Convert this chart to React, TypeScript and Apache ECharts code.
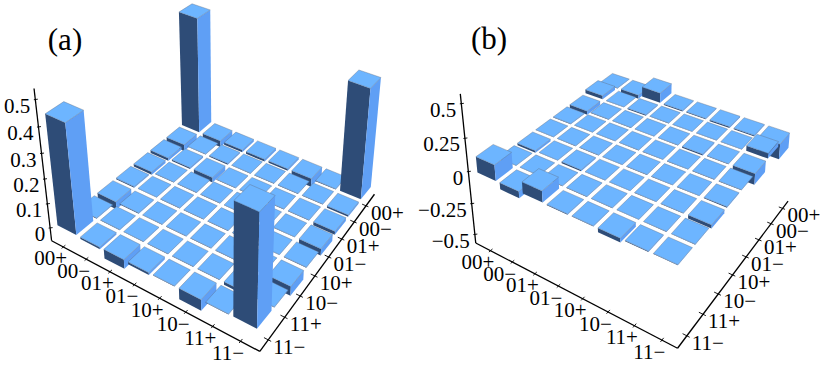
import React, { useEffect, useRef } from "react";
import * as echarts from "echarts";

const basisLabels = ["00+", "00−", "01+", "01−", "10+", "10−", "11+", "11−"];
const zTicksA = [0, 0.1, 0.2, 0.3, 0.4, 0.5];
const zTickLabelsA = ["0", "0.1", "0.2", "0.3", "0.4", "0.5"];
const zTicksB = [-0.5, -0.25, 0, 0.25, 0.5];
const zTickLabelsB = ["−0.5", "−0.25", "0", "0.25", "0.5"];

const matrixA = [
  [0.497, -0.028, -0.012, -0.012, -0.005, -0.032, -0.003, 0.44],
  [-0.028, -0.002, -0.006, -0.002, -0.002, -0.003, -0.002, -0.008],
  [-0.01, -0.005, -0.022, -0.002, -0.002, -0.002, -0.002, -0.038],
  [-0.01, -0.002, -0.002, -0.002, -0.002, -0.002, -0.002, -0.01],
  [-0.008, -0.002, -0.002, -0.002, -0.002, -0.002, -0.002, -0.002],
  [-0.036, -0.002, -0.002, -0.002, -0.002, -0.002, -0.002, -0.045],
  [-0.003, -0.002, -0.002, -0.002, -0.002, -0.002, -0.012, -0.002],
  [0.459, -0.008, -0.014, -0.028, -0.002, -0.038, -0.002, 0.432],
];

const matrixB = [
  [-0.003, 0.03, -0.03, -0.005, -0.003, -0.016, -0.003, 0.12],
  [-0.03, -0.003, -0.003, -0.003, -0.003, -0.003, -0.003, -0.05],
  [0.08, -0.008, -0.003, -0.003, -0.003, -0.01, -0.003, 0.085],
  [-0.008, -0.003, -0.003, -0.003, -0.003, -0.003, -0.003, -0.005],
  [-0.005, -0.003, -0.003, -0.003, -0.003, -0.003, -0.003, -0.004],
  [-0.01, -0.003, -0.01, -0.003, -0.003, -0.003, -0.003, -0.03],
  [-0.008, -0.003, -0.003, -0.003, -0.003, -0.003, -0.003, -0.006],
  [-0.12, 0.04, -0.085, -0.003, -0.006, -0.025, -0.003, -0.003],
];

type Cam = { a: number; b: number; c: number; d: number; e: number; f: number; g: number; h: number; p: number; q: number; r: number };
const camA: Cam = { a: 142.5, b: -149.3, c: 193.7, d: 54.2, e: 72.9, f: 113.5, g: -0.1009, h: -0.1744, p: -28.9, q: -224, r: -0.128 };
const camB: Cam = { a: 83.7, b: -226.4, c: 612, d: 44.3, e: 68.8, f: 72, g: -0.1226, h: -0.1861, p: -41, q: -117.5, r: -0.064 };

const project = (cam: Cam, u: number, v: number, z: number): [number, number] => {
  const s = u / 8;
  const t = v / 8;
  const w = cam.g * s + cam.h * t + 1 + cam.r * z;
  return [(cam.a * s + cam.b * t + cam.c + cam.p * z) / w, (cam.d * s + cam.e * t + cam.f + cam.q * z) / w];
};

const GAP = 0.085;
const TOP = "#6DB5FF";
const LIGHT = "#5F9FF5";
const DARK = "#2E4C77";
const EDGE = "rgba(95,105,120,0.6)";

const barSeries = (cam: Cam, matrix: number[][]) => ({
  type: "custom",
  coordinateSystem: "none",
  silent: true,
  clip: false,
  data: matrix.flatMap((row, i) => row.map((val, j) => [i, j, val])),
  renderItem: (_: unknown, api: any) => {
    const i = api.value(0);
    const j = api.value(1);
    const val = api.value(2);
    const u0 = i + GAP;
    const u1 = i + 1 - GAP;
    const v0 = j + GAP;
    const v1 = j + 1 - GAP;
    const zt = Math.max(val, 0);
    const zb = Math.min(val, 0);
    const P = (u: number, v: number, z: number) => project(cam, u, v, z);
    const face = (points: [number, number][], fill: string, stroke?: string) => ({
      type: "polygon",
      shape: { points },
      style: stroke ? { fill, stroke, lineWidth: 0.6 } : { fill },
    });
    return {
      type: "group",
      children: [
        face([P(u0, v1, zt), P(u1, v1, zt), P(u1, v1, zb), P(u0, v1, zb)], DARK),
        face([P(u1, v1, zt), P(u1, v0, zt), P(u1, v0, zb), P(u1, v1, zb)], LIGHT),
        face([P(u0, v0, zt), P(u1, v0, zt), P(u1, v1, zt), P(u0, v1, zt)], TOP, EDGE),
      ],
    };
  },
});

type Box = { uL: number; uR: number; uRBack: number; vF: number; vB: number; vScale: number; zMin: number; zMax: number };
const boxA: Box = { uL: -0.02, uR: 8.17, uRBack: 7.95, vF: 8.15, vB: -0.25, vScale: 1.02, zMin: -0.054, zMax: 0.54 };
const boxB: Box = { uL: -0.2, uR: 8.05, uRBack: 8.05, vF: 8.05, vB: 0, vScale: 1, zMin: -0.57, zMax: 0.57 };

const FONT = '21px "Liberation Serif"';

const axes = (cam: Cam, box: Box, zTicks: number[], zLabels: string[]) => {
  const out: any[] = [];
  const line = (p1: [number, number], p2: [number, number], lw: number) =>
    out.push({
      type: "line",
      shape: { x1: p1[0], y1: p1[1], x2: p2[0], y2: p2[1] },
      style: { stroke: "#000", lineWidth: lw },
    });
  const text = (s: string, x: number, y: number, align: string) =>
    out.push({
      type: "text",
      x,
      y,
      style: { text: s, font: FONT, fill: "#000", textAlign: align, textVerticalAlign: "middle" },
    });
  const Z = box.zMin;
  const uAt = (v: number) => box.uRBack + ((box.uR - box.uRBack) * v) / box.vF;
  const A = project(cam, box.uL, box.vF, Z);
  const B = project(cam, box.uR, box.vF, Z);
  const C = project(cam, box.uRBack, box.vB, Z);
  line(A, B, 1.3);
  line(B, C, 1.3);
  line(project(cam, box.uL, box.vF, box.zMin), project(cam, box.uL, box.vF, box.zMax), 1.3);
  basisLabels.forEach((lab, i) => {
    const t = project(cam, i + 0.5, box.vF, Z);
    line(project(cam, i + 0.5, box.vF - 0.1, Z), project(cam, i + 0.5, box.vF + 0.08, Z), 0.9);
    text(lab, t[0] - 12.5, t[1] + 11.5, "center");
    const v = (i + 0.5) * box.vScale;
    const t2 = project(cam, uAt(v), v, Z);
    line(project(cam, uAt(v) - 0.15, v, Z), project(cam, uAt(v) + 0.1, v, Z), 0.9);
    text(lab, t2[0] + 5, t2[1] + 7, "left");
  });
  zTicks.forEach((zv, k) => {
    const t = project(cam, box.uL, box.vF, zv);
    line([t[0] - 1.5, t[1]], [t[0] + 2.5, t[1] - 0.5], 0.9);
    text(zLabels[k], t[0] - 5, t[1] + 6, "right");
  });
  return out;
};

export default function App() {
  const ref = useRef<HTMLDivElement>(null);
  useEffect(() => {
    const chart = echarts.init(ref.current!, undefined, { renderer: "svg" });
    chart.setOption({
      animation: false,
      backgroundColor: "#fff",
      graphic: {
        elements: [
          ...axes(camA, boxA, zTicksA, zTickLabelsA),
          ...axes(camB, boxB, zTicksB, zTickLabelsB),
          { type: "text", x: 65, y: 39, style: { text: "(a)", font: '31px "Liberation Serif"', fill: "#000", textAlign: "center", textVerticalAlign: "middle" } },
          { type: "text", x: 489, y: 38, style: { text: "(b)", font: '31px "Liberation Serif"', fill: "#000", textAlign: "center", textVerticalAlign: "middle" } },
        ],
      },
      series: [barSeries(camA, matrixA), barSeries(camB, matrixB)],
    });
    return () => chart.dispose();
  }, []);
  return <div ref={ref} style={{ position: "fixed", left: 0, top: 0, width: 823, height: 368 }} />;
}
